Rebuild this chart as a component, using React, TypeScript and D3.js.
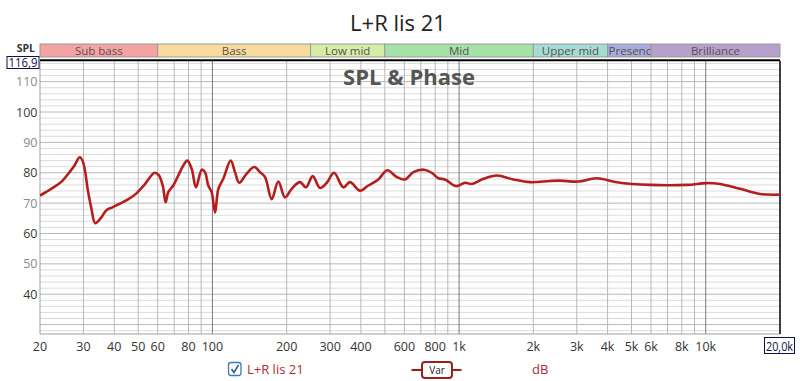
import React from "react";
import * as d3 from "d3";

const freqs = [20, 22.2, 24.4, 26.4, 27.6, 29.0, 29.9, 31.3, 32.3, 33.5, 35.4, 37.1, 39.5, 42.1, 45.5, 49.2, 53.2, 58.3, 60.6, 63.0, 64.6, 66.2, 69.4, 72.7, 76.2, 79.1, 82.4, 85.8, 90.5, 93.3, 96.2, 99.3, 102.5, 105.7, 110.7, 118.6, 123.5, 128.5, 137.7, 147.9, 155.9, 163.4, 173.9, 185, 196.9, 209.6, 226.5, 239.6, 255.1, 273, 290.8, 311.2, 339.4, 361.3, 396.7, 428.4, 470.5, 511.7, 558.6, 603.6, 652.5, 721.2, 774.6, 823.8, 877, 972, 1057, 1125, 1254, 1421, 1659, 1939, 2336, 2565, 3044, 3614, 4356, 5944, 8372, 10092, 11426, 13770, 16596, 20000];
const spl = [72.5, 74.7, 77.0, 80.3, 82.4, 85.1, 83.5, 74.0, 68.3, 63.4, 65.2, 67.6, 68.7, 69.8, 71.2, 73.2, 76.2, 80.0, 79.2, 75.5, 70.3, 73.6, 75.8, 79.1, 82.4, 84.0, 81.3, 75.2, 81.0, 80.2, 75.8, 73.6, 66.9, 74.7, 78.0, 84.0, 80.2, 76.7, 79.7, 81.9, 80.2, 78.6, 71.3, 77.1, 71.9, 74.7, 76.9, 75.2, 78.9, 75.0, 76.7, 80.0, 75.2, 76.9, 74.1, 75.8, 77.8, 80.8, 78.6, 77.8, 80.2, 81.0, 80.0, 78.2, 77.8, 75.6, 76.7, 76.3, 78.0, 79.1, 77.8, 76.9, 77.3, 77.4, 77.1, 78.2, 76.9, 76.0, 76.0, 76.6, 76.3, 74.7, 73.0, 72.8];

const xTickValues = [20, 30, 40, 50, 60, 80, 100, 200, 300, 400, 600, 800, 1000, 2000, 3000, 4000, 5000, 6000, 8000, 10000];
const xTickLabels = ["20", "30", "40", "50", "60", "80", "100", "200", "300", "400", "600", "800", "1k", "2k", "3k", "4k", "5k", "6k", "8k", "10k"];
const yTickValues = [110, 100, 90, 80, 70, 60, 50, 40];

const bandNames = ["Sub bass", "Bass", "Low mid", "Mid", "Upper mid", "Presence", "Brilliance"];
const bandEdges = [20, 60, 250, 500, 2000, 4000, 6000, 20000];
const bandColors = ["#f4a3a3", "#f7dc9c", "#d5eda8", "#a6e2a8", "#a4dcd6", "#a6acdc", "#b6a0cc"];

const FONT = "'Open Sans', 'Noto Sans', sans-serif";

export default function App() {
  const left = 40, right = 780, top = 60.7, bottom = 334;
  const x = d3.scaleLog().domain([20, 20000]).range([left, right]);
  const y = d3.scaleLinear().domain([26.9, 116.9]).range([bottom, top]);

  const minorV: number[] = [];
  for (const dec of [10, 100, 1000, 10000]) {
    for (let k = 2; k <= 9; k++) {
      const f = dec * k;
      if (f > 20 && f < 20000) minorV.push(f);
    }
  }
  const majorV = [100, 1000, 10000];
  const hLines: number[] = [];
  for (let v = 28; v <= 116; v += 2) hLines.push(v);

  const pts = freqs.map((f, i) => [x(f), y(spl[i])] as [number, number]);
  const line = d3.line().curve(d3.curveCatmullRom.alpha(0.5))(pts) || "";

  return (
    <svg width={800} height={381} style={{ position: "absolute", left: 0, top: 0, background: "#fff" }} fontFamily={FONT}>
      <defs>
        <clipPath id="plotclip">
          <rect x={left} y={top} width={right - left} height={bottom - top} />
        </clipPath>
        {bandNames.map((n, i) => (
          <clipPath id={"bandclip" + i} key={n}>
            <rect x={x(bandEdges[i])} y={44} width={x(bandEdges[i + 1]) - x(bandEdges[i])} height={13} />
          </clipPath>
        ))}
      </defs>
      <rect x={0} y={0} width={800} height={381} fill="#fff" />
      <text x={398} y={31} textAnchor="middle" fontSize={22} fill="#222">L+R lis 21</text>

      {/* band bar */}
      {bandNames.map((n, i) => {
        const x0 = x(bandEdges[i]);
        const x1 = x(bandEdges[i + 1]);
        const w = x1 - x0;
        const narrow = w < 50;
        return (
          <g key={n}>
            <rect x={x0} y={44} width={w} height={13} fill={bandColors[i]} stroke="#9a9a9a" strokeWidth={1} />
            <text
              x={narrow ? x0 + 1 : (x0 + x1) / 2}
              y={54.5}
              textAnchor={narrow ? "start" : "middle"}
              fontSize={11.5}
              fill="#5a5050"
              clipPath={`url(#bandclip${i})`}
            >
              {n}
            </text>
          </g>
        );
      })}

      {/* grid */}
      {hLines.map((v) => (
        <line key={"h" + v} x1={left} x2={right} y1={y(v)} y2={y(v)} stroke={v % 10 === 0 ? "#b8b8b8" : "#dcdcdc"} strokeWidth={1} />
      ))}
      {minorV.map((f) => (
        <line key={"v" + f} x1={x(f)} x2={x(f)} y1={top} y2={bottom} stroke="#b8b8b8" strokeWidth={1} />
      ))}
      {majorV.map((f) => (
        <line key={"m" + f} x1={x(f)} x2={x(f)} y1={top} y2={bottom} stroke="#7a7a7a" strokeWidth={1} />
      ))}
      <line x1={left} x2={left} y1={top} y2={bottom} stroke="#a0a0a0" />
      <line x1={left} x2={right} y1={bottom} y2={bottom} stroke="#a0a0a0" />
      <line x1={right} x2={right} y1={top} y2={bottom} stroke="#000" strokeWidth={1.5} />
      <line x1={left} x2={right} y1={top - 0.5} y2={top - 0.5} stroke="#000" strokeWidth={2} />

      <text x={409} y={85} textAnchor="middle" fontSize={22} fontWeight="bold" fill="#555">SPL &amp; Phase</text>

      {/* curve */}
      <path d={line} fill="none" stroke="#b41e1e" strokeWidth={2.6} strokeLinejoin="round" clipPath="url(#plotclip)" />

      {/* y labels */}
      {yTickValues.map((v) => (
        <text key={"y" + v} x={37.5} y={y(v) + 4.5} textAnchor="end" fontSize={12.5} fill={(v / 10) % 2 === 1 ? "#8a8a8a" : "#3a3a3a"}>
          {v}
        </text>
      ))}
      <text x={35} y={52} textAnchor="end" fontSize={10.5} fontWeight="bold" fill="#333">SPL</text>
      <rect x={7} y={56.5} width={32} height={12} fill="#fff" stroke="#101050" strokeWidth={1} />
      <text x={23} y={66.5} textAnchor="middle" fontSize={12} fill="#101040" textLength={29} lengthAdjust="spacingAndGlyphs">116,9</text>

      {/* x labels */}
      {xTickValues.map((f, i) => (
        <text key={"x" + f} x={x(f)} y={351} textAnchor="middle" fontSize={12.5} fill="#333">
          {xTickLabels[i]}
        </text>
      ))}
      <rect x={764.5} y={337.5} width={30} height={16} fill="#fff" stroke="#101050" strokeWidth={1} />
      <text x={779.5} y={350.5} textAnchor="middle" fontSize={12} fill="#101040" textLength={27} lengthAdjust="spacingAndGlyphs">20,0k</text>

      {/* legend */}
      <rect x={228.5} y={362.5} width={12.5} height={13} rx={2.5} fill="#fff" stroke="#3b7bb3" strokeWidth={1.3} />
      <path d="M231.5,369 L234,372.5 L238.5,364.8" fill="none" stroke="#2a5f90" strokeWidth={1.6} />
      <text x={247} y={374} fontSize={13} fill="#b02a35">L+R lis 21</text>

      <line x1={411.5} x2={461.5} y1={370} y2={370} stroke="#9a2020" strokeWidth={2} />
      <rect x={422} y={362} width={30} height={16} rx={3} fill="#fff" stroke="#9a2020" strokeWidth={2} />
      <text x={437} y={374} textAnchor="middle" fontSize={10} fill="#222">Var</text>

      <text x={532} y={374} fontSize={13} fill="#b02a35">dB</text>
    </svg>
  );
}
